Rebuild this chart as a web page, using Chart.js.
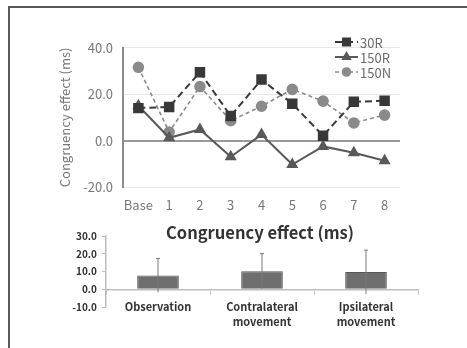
<!DOCTYPE html>
<html>
<head>
<meta charset="utf-8">
<script src="https://cdn.jsdelivr.net/npm/chart.js@4"></script>
<style>
  body { margin: 0; background: #fff; width: 467px; height: 348px; overflow: hidden; position: relative; }
  #frame { position: absolute; left: 8px; top: 6px; width: 480px; height: 360px; border-top: 2px solid #5a5a5a; border-left: 2px solid #5a5a5a; }
  #line-wrap { position: absolute; left: 50px; top: 30px; width: 370px; height: 190px; }
  #bar-wrap { position: absolute; left: 20px; top: 215px; width: 420px; height: 125px; }
</style>
</head>
<body>
<div id="frame"></div>
<div id="line-wrap"><canvas id="line-chart" width="370" height="190"></canvas></div>
<div id="bar-wrap"><canvas id="bar-chart" width="420" height="125"></canvas></div>
<script>
// top chart data
let sessions = ['Base', '1', '2', '3', '4', '5', '6', '7', '8']
let r30 = [14.0, 14.5, 29.5, 10.6, 26.3, 15.9, 2.1, 16.7, 17.2]
let r150 = [15.0, 1.2, 4.8, -7.0, 2.6, -10.3, -2.5, -5.2, -8.7]
let n150 = [31.6, 3.7, 23.3, 8.6, 14.8, 22.1, 17.0, 7.6, 11.0]
let lineTicks = [-20, 0, 20, 40]

// bottom chart data
let conditions = ['Observation', ['Contralateral', 'movement'], ['Ipsilateral', 'movement']]
let meanEffect = [7.8, 10.2, 9.7]
let sdEffect = [9.5, 9.9, 12.3]
let barTicks = [-10, 0, 10, 20, 30]

let font = "'Noto Sans CJK JP', 'Noto Sans', sans-serif"

// legend drawn inside the plot, top right
let insideLegend = {
    id: 'insideLegend',
    afterDraw(chart) {
        let ctx = chart.ctx
        let x0 = 285, x1 = 308, y = 12
        chart.data.datasets.forEach(function(ds) {
            ctx.save()
            ctx.strokeStyle = ds.borderColor
            ctx.lineWidth = ds.borderWidth
            ctx.setLineDash(ds.borderDash || [])
            ctx.beginPath()
            ctx.moveTo(x0, y)
            ctx.lineTo(x1, y)
            ctx.stroke()
            ctx.setLineDash([])
            ctx.fillStyle = ds.backgroundColor
            Chart.helpers.drawPoint(ctx, {pointStyle: ds.pointStyle, radius: ds.pointRadius - 1, borderWidth: 1}, (x0 + x1) / 2, y)
            ctx.fillStyle = '#6b6b6b'
            ctx.font = '13px ' + font
            ctx.textBaseline = 'middle'
            ctx.fillText(ds.label, x1 + 2, y + 1)
            ctx.restore()
            y += 15
        })
    }
}

new Chart(document.querySelector('#line-chart'), {
    type: 'line',
    data: {
        labels: sessions,
        datasets: [
            {label: '30R', data: r30, borderColor: '#383838', backgroundColor: '#383838', borderWidth: 2,
             borderDash: [7, 4], pointStyle: 'rect', pointRadius: 6, pointBorderColor: '#383838'},
            {label: '150R', data: r150, borderColor: '#595959', backgroundColor: '#595959', borderWidth: 2,
             pointStyle: 'triangle', pointRadius: 5, pointBorderColor: '#595959'},
            {label: '150N', data: n150, borderColor: '#8a8a8a', backgroundColor: '#8a8a8a', borderWidth: 1.6,
             borderDash: [4, 3], pointStyle: 'circle', pointRadius: 5, pointBorderColor: '#8a8a8a'}
        ]
    },
    options: {
        responsive: false,
        animation: false,
        layout: {padding: {left: 0, right: 20, top: 12, bottom: 0}},
        plugins: {legend: {display: false}, tooltip: {enabled: false}},
        scales: {
            x: {
                offset: true,
                grid: {display: false, drawTicks: false},
                border: {display: false},
                ticks: {color: '#777', font: {family: font, size: 13}, padding: 10, maxRotation: 0, autoSkip: false},
                afterFit(scale) { scale.height = 33 }
            },
            y: {
                min: -20, max: 40,
                afterBuildTicks(scale) { scale.ticks = lineTicks.map(v => ({value: v})) },
                grid: {
                    drawTicks: false,
                    color: ctx => ctx.tick && ctx.tick.value === 0 ? '#9a9a9a' : '#e8e8e8',
                    lineWidth: ctx => ctx.tick && ctx.tick.value === 0 ? 2 : 1
                },
                border: {color: '#8c8c8c', width: 2},
                ticks: {color: '#777', font: {family: font, size: 13}, padding: 10,
                        callback: v => v.toFixed(1)},
                title: {display: true, text: 'Congruency effect (ms)', color: '#777',
                        font: {family: font, size: 13}, padding: {top: 7, bottom: 0}},
                afterFit(scale) { scale.width = 73 }
            }
        }
    },
    plugins: [insideLegend]
})

// error bars and the title for the bar chart
let errorBars = {
    id: 'errorBars',
    afterDatasetsDraw(chart) {
        let ctx = chart.ctx
        let yScale = chart.scales.y
        let meta = chart.getDatasetMeta(0)
        ctx.save()
        ctx.strokeStyle = '#7a7a7a'
        ctx.lineWidth = 1
        meta.data.forEach(function(bar, i) {
            let top = yScale.getPixelForValue(meanEffect[i] + sdEffect[i])
            let bottom = yScale.getPixelForValue(meanEffect[i] - sdEffect[i])
            ctx.beginPath()
            ctx.moveTo(bar.x, top)
            ctx.lineTo(bar.x, bottom)
            ctx.moveTo(bar.x - 2, top)
            ctx.lineTo(bar.x + 2, top)
            ctx.stroke()
        })
        ctx.restore()
    },
    afterDraw(chart) {
        let ctx = chart.ctx
        ctx.save()
        ctx.fillStyle = '#333'
        ctx.font = '600 16.5px ' + font
        ctx.textAlign = 'center'
        ctx.textBaseline = 'middle'
        ctx.fillText('Congruency effect (ms)', 240, 18)
        ctx.restore()
    }
}

new Chart(document.querySelector('#bar-chart'), {
    type: 'bar',
    data: {
        labels: conditions,
        datasets: [{
            data: meanEffect,
            backgroundColor: '#6e6e6e',
            borderColor: '#565656',
            borderWidth: 1,
            barPercentage: 0.4,
            categoryPercentage: 1
        }]
    },
    options: {
        responsive: false,
        animation: false,
        layout: {padding: {left: 0, right: 22, top: 21, bottom: 33}},
        plugins: {legend: {display: false}, tooltip: {enabled: false}},
        scales: {
            x: {
                position: {y: 0},
                grid: {drawOnChartArea: false, tickLength: 4, color: '#bdbdbd', offset: true},
                border: {color: '#bdbdbd', width: 1.5},
                ticks: {color: '#333', font: {family: font, size: 11, weight: 'bold', lineHeight: 1.35},
                        padding: 6, maxRotation: 0, autoSkip: false},
                afterFit(scale) { scale.height = 0 }
            },
            y: {
                min: -10, max: 30,
                afterBuildTicks(scale) { scale.ticks = barTicks.map(v => ({value: v})) },
                grid: {drawOnChartArea: false, tickLength: 4, color: '#bdbdbd'},
                border: {color: '#bdbdbd', width: 1.5},
                ticks: {color: '#333', font: {family: font, size: 10, weight: 'bold'}, padding: 5,
                        callback: v => v.toFixed(1)},
                afterFit(scale) { scale.width = 86 }
            }
        }
    },
    plugins: [errorBars]
})
</script>
</body>
</html>
